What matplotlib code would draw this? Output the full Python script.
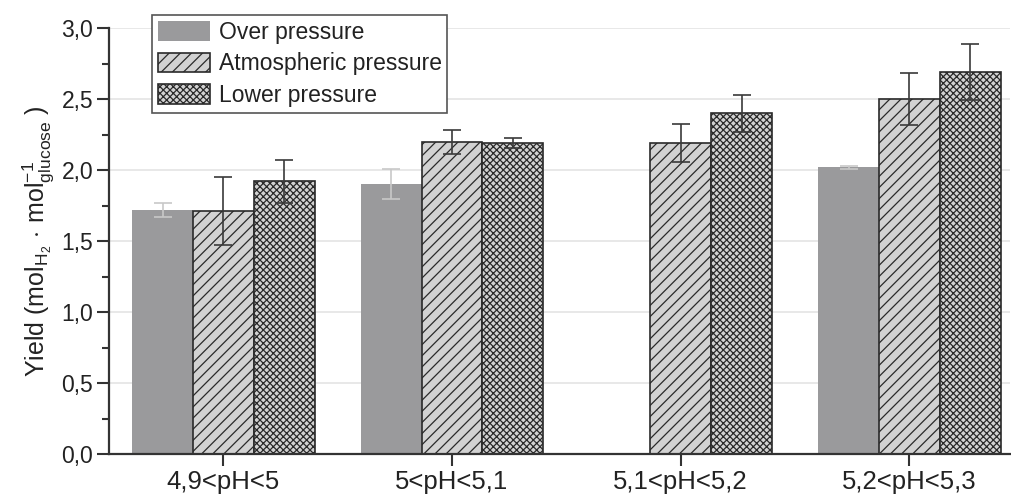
import matplotlib.pyplot as plt
import numpy as np

plt.rcParams['font.family'] = ['Liberation Sans', 'DejaVu Sans']
plt.rcParams['mathtext.fontset'] = 'custom'
plt.rcParams['mathtext.rm'] = 'Liberation Sans'
plt.rcParams['mathtext.it'] = 'Liberation Sans:italic'
plt.rcParams['hatch.linewidth'] = 0.9
plt.rcParams['hatch.color'] = '#2a2a2a'

categories = ['4,9<pH<5', '5<pH<5,1', '5,1<pH<5,2', '5,2<pH<5,3']
series = ['Over pressure', 'Atmospheric pressure', 'Lower pressure']
over = [1.72, 1.90, np.nan, 2.02]
over_err = [0.05, 0.105, np.nan, 0.01]
atm = [1.71, 2.20, 2.19, 2.50]
atm_err = [0.24, 0.085, 0.135, 0.18]
low = [1.92, 2.19, 2.40, 2.69]
low_err = [0.15, 0.035, 0.13, 0.20]
yticks = [0.0, 0.5, 1.0, 1.5, 2.0, 2.5, 3.0]
ytick_labels = ['0,0', '0,5', '1,0', '1,5', '2,0', '2,5', '3,0']

fig = plt.figure(figsize=(10.12, 5.01), dpi=100, facecolor='white')
ax = fig.add_axes([109/1012, 1 - 454/501, (1010 - 109)/1012, (454 - 28)/501])

x = np.arange(len(categories))
w = 0.266
edge = '#2a2a2a'

ax.bar(x - w, over, w, color='#9a9a9c', edgecolor='none', label=series[0], zorder=2)
ax.bar(x, atm, w, color='#d2d2d2', edgecolor=edge, linewidth=1.2, hatch='///',
       label=series[1], zorder=2)
ax.bar(x + w, low, w, color='#d2d2d2', edgecolor=edge, linewidth=1.2, hatch='xxxxx',
       label=series[2], zorder=2)

ax.errorbar(x - w, over, yerr=over_err, fmt='none', ecolor='#c8c8c8',
            elinewidth=1.2, capsize=6.5, capthick=1.2, zorder=3)
ax.errorbar(x, atm, yerr=atm_err, fmt='none', ecolor='#3a3a3a',
            elinewidth=1.2, capsize=6.5, capthick=1.2, zorder=3)
ax.errorbar(x + w, low, yerr=low_err, fmt='none', ecolor='#3a3a3a',
            elinewidth=1.2, capsize=6.5, capthick=1.2, zorder=3)

ax.set_xlim(-0.5, 3.44)
ax.set_ylim(0, 3.0)
ax.set_xticks(x)
ax.set_xticklabels(categories, fontsize=18.5)
ax.set_yticks(yticks)
ax.set_yticklabels(ytick_labels, fontsize=16.5)
ax.set_yticks(np.arange(0.25, 3.0, 0.5), minor=True)
ax.yaxis.grid(True, which='major', color='#e4e4e4', linewidth=1.2, zorder=0)
ax.set_axisbelow(True)

for s in ['top', 'right']:
    ax.spines[s].set_visible(False)
for s in ['left', 'bottom']:
    ax.spines[s].set_color('#333333')
    ax.spines[s].set_linewidth(1.6)
ax.tick_params(axis='both', which='major', direction='out', length=8.5, width=1.5,
               color='#333333', labelcolor='#222222', pad=3)
ax.tick_params(axis='y', which='minor', direction='out', length=5, width=1.5,
               color='#333333')
ax.tick_params(axis='x', which='minor', bottom=False)

ax.set_ylabel(r'Yield (mol$_{\mathrm{H}_2}\,\cdot\,$mol$^{-1}_{\mathrm{glucose}}$ )',
              fontsize=18, color='#222222', labelpad=4)

leg = ax.legend(loc='upper left', bbox_to_anchor=(152/1012, 1 - 15/501),
                bbox_transform=fig.transFigure, borderaxespad=0, fontsize=16.5,
                fancybox=False, framealpha=1, edgecolor='#555555',
                handlelength=2.3, handleheight=0.95, handletextpad=0.36,
                labelspacing=0.38, borderpad=0.25)
leg.get_frame().set_linewidth(1.2)
for t in leg.get_texts():
    t.set_color('#222222')

plt.savefig('out.png', dpi=100, facecolor='white')
